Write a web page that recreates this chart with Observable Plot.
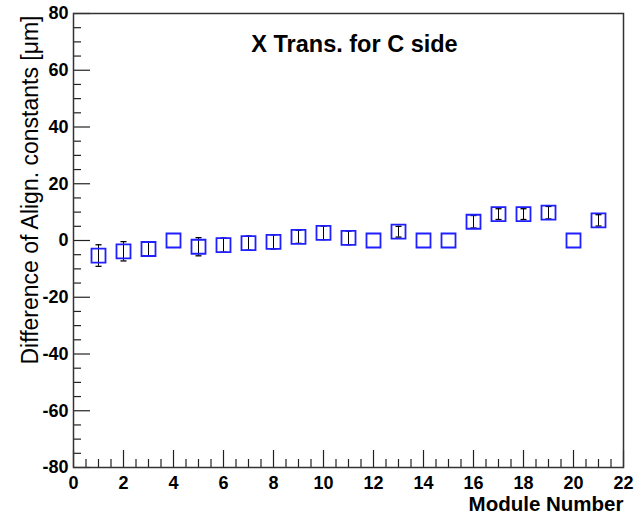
<!DOCTYPE html>
<html>
<head>
<meta charset="utf-8">
<script src="https://cdn.jsdelivr.net/npm/d3@7"></script>
<script src="https://cdn.jsdelivr.net/npm/@observablehq/plot@0.6"></script>
<style>
  body { margin: 0; background: #fff; }
  #chart { width: 638px; height: 515px; }
</style>
</head>
<body>
<div id="chart"></div>
<script>
// Alignment constant differences per module (C side, X translation), in µm
const modules = [1, 2, 3, 4, 5, 6, 7, 8, 9, 10, 11, 12, 13, 14, 15, 16, 17, 18, 19, 20, 21];
const shifts  = [-5.3, -3.8, -3.0, 0, -2.2, -1.6, -0.9, -0.5, 1.3, 2.7, 0.9, 0, 3.1, 0, 0, 6.6, 9.3, 9.3, 9.8, 0, 7.1];
const errors  = [3.8, 3.4, 2.5, 0, 3.2, 2.5, 2.5, 2.5, 2.3, 2.4, 2.4, 0, 1.9, 0, 0, 2.2, 1.9, 1.9, 2.2, 0, 2.0];

// Axis ticks
const xMajorTicks = [0, 2, 4, 6, 8, 10, 12, 14, 16, 18, 20, 22];
const xMinorTicks = [0.5, 1, 1.5, 2.5, 3, 3.5, 4.5, 5, 5.5, 6.5, 7, 7.5, 8.5, 9, 9.5, 10.5, 11, 11.5,
                     12.5, 13, 13.5, 14.5, 15, 15.5, 16.5, 17, 17.5, 18.5, 19, 19.5, 20.5, 21, 21.5];
const yMajorTicks = [-80, -60, -40, -20, 0, 20, 40, 60, 80];
const yMinorTicks = [-75, -70, -65, -55, -50, -45, -35, -30, -25, -15, -10, -5,
                     5, 10, 15, 25, 30, 35, 45, 50, 55, 65, 70, 75];

const title  = "X Trans. for C side";
const xLabel = "Module Number";
const yLabel = "Difference of Align. constants [\u03bcm]";

const points = modules.map((m, i) => ({module: m, shift: shifts[i], err: errors[i]}));
const withErr = points.filter(d => d.err > 0);

const width = 638, height = 515;
const margin = {left: 73, right: 15, top: 13, bottom: 48};
const innerW = width - margin.left - margin.right;
const innerH = height - margin.top - margin.bottom;
const majorLen = 17, minorLen = 8;
const font = "'Liberation Sans', Arial, Helvetica, sans-serif";
const plainNumber = d => String(d);   // ASCII hyphen for negatives

// Short horizontal bar used as the error-bar end cap
const capSymbol = {
  draw(context, size) {
    const w = Math.sqrt(size) / 2;
    context.moveTo(-w, 0);
    context.lineTo(w, 0);
  }
};

const chart = Plot.plot({
  width, height,
  marginLeft: margin.left, marginRight: margin.right,
  marginTop: margin.top, marginBottom: margin.bottom,
  style: {fontFamily: font, background: "#fff", color: "#000"},
  x: {domain: [0, 22], axis: null},
  y: {domain: [-80, 80], axis: null},
  marks: [
    // inward ticks along the left and bottom edges
    Plot.tickY(yMajorTicks, {y: d => d, insetRight: innerW - majorLen, stroke: "#222", strokeWidth: 1.2}),
    Plot.tickY(yMinorTicks, {y: d => d, insetRight: innerW - minorLen, stroke: "#222", strokeWidth: 1.2}),
    Plot.tickX(xMajorTicks, {x: d => d, insetTop: innerH - majorLen, stroke: "#222", strokeWidth: 1.2}),
    Plot.tickX(xMinorTicks, {x: d => d, insetTop: innerH - minorLen, stroke: "#222", strokeWidth: 1.2}),
    Plot.axisX(xMajorTicks, {tickSize: 0, tickPadding: 9, fontSize: 18, fontWeight: "bold", label: null, tickFormat: plainNumber}),
    Plot.axisY(yMajorTicks, {tickSize: 0, tickPadding: 5, fontSize: 18, fontWeight: "bold", label: null, tickFormat: plainNumber}),
    Plot.frame({stroke: "#333", strokeWidth: 1.5}),
    // error bars
    Plot.ruleX(withErr, {x: "module", y1: d => d.shift - d.err, y2: d => d.shift + d.err, stroke: "#000", strokeWidth: 1}),
    Plot.dot(withErr, {x: "module", y: d => d.shift + d.err, symbol: capSymbol, r: 3.4, stroke: "#000", strokeWidth: 1.3}),
    Plot.dot(withErr, {x: "module", y: d => d.shift - d.err, symbol: capSymbol, r: 3.4, stroke: "#000", strokeWidth: 1.3}),
    // open square markers
    Plot.dot(points, {x: "module", y: "shift", symbol: "square", r: 7.9, stroke: "#1f1fff", strokeWidth: 1.8, fill: "none"}),
    // titles
    Plot.text([title], {frameAnchor: "top", dx: 6, dy: 22, fontSize: 23.5, fontWeight: "bold", fill: "#000"}),
    Plot.text([xLabel], {frameAnchor: "bottom-right", dy: 43, textAnchor: "end", fontSize: 20.5, fontWeight: "bold", fill: "#000"}),
    Plot.text([yLabel], {frameAnchor: "top-left", rotate: -90, textAnchor: "end", dx: -52, dy: 2, fontSize: 23, fill: "#000"})
  ]
});

document.getElementById("chart").append(chart);
</script>
</body>
</html>
